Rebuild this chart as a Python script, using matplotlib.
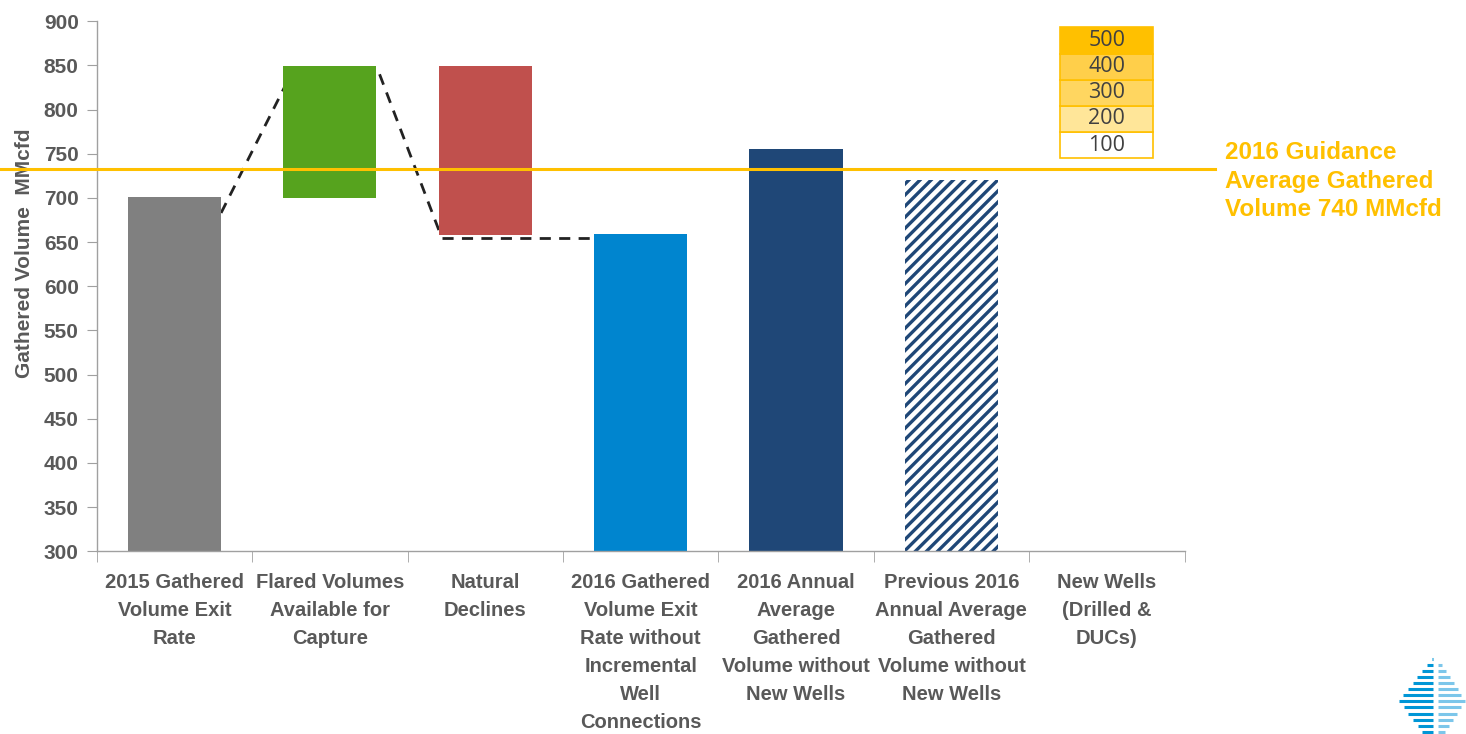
import numpy as np
import matplotlib
matplotlib.use('Agg')
import matplotlib.pyplot as plt

# Données
categories = ['2015 Gathered\nVolume Exit\nRate',
              'Flared Volumes\nAvailable for\nCapture',
              'Natural\nDeclines',
              '2016 Gathered\nVolume Exit\nRate without\nIncremental\nWell\nConnections',
              '2016 Annual\nAverage\nGathered\nVolume without\nNew Wells',
              'Previous 2016\nAnnual Average\nGathered\nVolume without\nNew Wells',
              'New Wells\n(Drilled &\nDUCs)']
bar_bottoms = [300, 700, 658, 300, 300, 300]
bar_tops = [701, 849, 849, 659, 755, 720]
bar_colors = ['#808080', '#56A31E', '#C0504D', '#0085CF', '#1F4777', 'white']

guidance = 733
guidance_text = '2016 Guidance\nAverage Gathered\nVolume 740 MMcfd'

# boîtes empilées "New Wells"
box_labels = ['100', '200', '300', '400', '500']
box_bottoms = [745, 774.6, 804.2, 833.8, 863.4]
box_height = 29.6
box_colors = ['white', '#FFE699', '#FFD660', '#FFCF4A', '#FFC000']

# lignes pointillées (connecteurs)
conn_x = [[0.30, 0.75], [1.32, 1.72], [1.72, 2.72]]
conn_y = [[683, 840], [840, 655], [655, 655]]

GOLD = '#FFC000'
TXT = '#595959'
FONT = ['Liberation Sans', 'DejaVu Sans']

plt.rcParams['hatch.linewidth'] = 2.4
plt.rcParams['hatch.color'] = '#1F4777'

fig = plt.figure(figsize=(14.66, 7.34), dpi=100)
ax = fig.add_axes([0.066, 0.249, 0.742, 0.722])

x = np.arange(len(categories))
w = 0.6
for i in range(len(bar_tops)):
    h = bar_tops[i] - bar_bottoms[i]
    if i == 5:
        ax.bar(x[i], h, w, bottom=bar_bottoms[i], color='white',
               edgecolor='#1F4777', linewidth=0, hatch='///', zorder=2)
    else:
        ax.bar(x[i], h, w, bottom=bar_bottoms[i], color=bar_colors[i], zorder=2)

for lab, b, c in zip(box_labels, box_bottoms, box_colors):
    ax.bar(x[6], box_height, w, bottom=b, color=c, edgecolor=GOLD,
           linewidth=1.2, zorder=3)
    ax.text(x[6], b + box_height / 2, lab, ha='center', va='center',
            fontsize=15.5, color='#404040', family='Open Sans', zorder=4)

for cx, cy in zip(conn_x, conn_y):
    ax.plot(cx, cy, color='#222222', linestyle=(0, (4, 3)), linewidth=2, zorder=1)

ax.plot([-0.5, 1.028], [guidance, guidance], transform=ax.get_yaxis_transform(),
        color=GOLD, linewidth=2.2, clip_on=False, zorder=5)
ax.text(1.037, guidance - 14, guidance_text, transform=ax.get_yaxis_transform(),
        ha='left', va='center', fontsize=17.5, fontweight='bold', color=GOLD,
        family=FONT, linespacing=1.3)

ax.set_xlim(-0.5, len(categories) - 0.5)
ax.set_ylim(300, 900)
ax.set_yticks(np.arange(300, 901, 50))
ax.set_xticks(x)
ax.set_xticklabels(categories, fontsize=14.5, fontweight='bold', color=TXT,
                   family=FONT, linespacing=1.6)
ax.set_xticks(np.arange(-0.5, len(categories)), minor=True)
ax.tick_params(axis='x', which='major', length=0, pad=16)
ax.tick_params(axis='x', which='minor', length=8, color='#A0A0A0', direction='out')
ax.tick_params(axis='y', length=7, color='#A0A0A0', direction='out', pad=6)
for t in ax.get_yticklabels():
    t.set_fontsize(15)
    t.set_fontweight('bold')
    t.set_color(TXT)
    t.set_family(FONT)
ax.set_ylabel('Gathered Volume  MMcfd', fontsize=15, fontweight='bold',
              color=TXT, family=FONT, labelpad=6)
ax.yaxis.set_label_coords(-0.058, 0.562)

for s in ['top', 'right']:
    ax.spines[s].set_visible(False)
for s in ['left', 'bottom']:
    ax.spines[s].set_color('#A0A0A0')
    ax.spines[s].set_linewidth(1)

# petit logo en bas à droite
lax = fig.add_axes([0.953, 0.0, 0.047, 0.105])
lax.set_xlim(-1, 1)
lax.set_ylim(-1, 1)
lax.axis('off')
for k, yy in enumerate(np.linspace(0.95, -1.1, 14)):
    half = 1 - abs(yy + 0.15) / 1.1
    if half <= 0:
        continue
    lax.plot([-half * 0.95, 0.05], [yy, yy], color='#0096D6', linewidth=2.2,
             solid_capstyle='butt')
    lax.plot([0.18, 0.18 + half * 0.8], [yy, yy], color='#7CC6EA', linewidth=2.2,
             solid_capstyle='butt')

fig.savefig('out.png', dpi=100)
